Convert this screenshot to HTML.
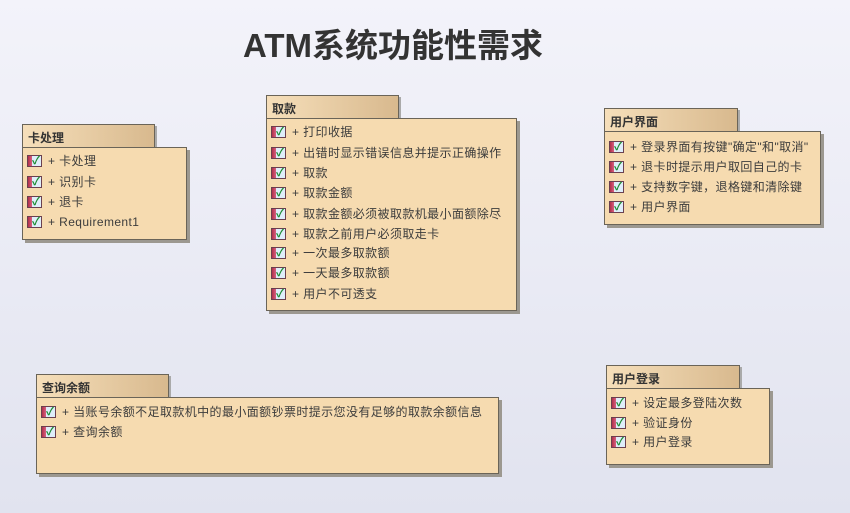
<!DOCTYPE html>
<html><head><meta charset="utf-8"><style>
*{margin:0;padding:0;box-sizing:border-box}
body{width:850px;height:513px;overflow:hidden;background:linear-gradient(#f3f3fa,#e1e3ef);position:relative;font-family:"Liberation Sans","Noto Sans CJK SC",sans-serif;}
.title{position:absolute;left:0;width:786px;text-align:center;top:19px;font-size:33px;font-weight:bold;color:#333;}
.tab{position:absolute;height:24px;border:1px solid #6a6458;background:linear-gradient(90deg,#f6dfba,#d8b98e);font-size:12px;font-weight:bold;color:#333;padding:4px 0 0 5px;box-shadow:2px 2px 0 #aaa;}
.bd{position:absolute;border:1px solid #6a6458;background:#f6dbb0;box-shadow:3px 3px 0 #9c9890;}
.r{position:absolute;left:4px;font-size:12px;color:#3c3c3c;letter-spacing:0.4px;white-space:nowrap;height:16px;line-height:16px}
.i{display:inline-block;width:15px;height:12px;vertical-align:-2px;margin-right:6px;background:linear-gradient(90deg,#b0304a 0,#d86080 4px,#dfeefa 4px);border:1px solid #6a4050;position:relative}
.i:after{content:"✓";position:absolute;left:4px;top:-3px;font-size:11px;color:#1a8a30;font-weight:bold}
</style></head><body>
<div class="title">ATM系统功能性需求</div>

<div class="tab" style="left:22px;top:124px;width:133px">卡处理</div>
<div class="bd" style="left:22px;top:147px;width:165px;height:93px">
<div class="r" style="top:5px"><span class="i"></span>+ 卡处理</div>
<div class="r" style="top:26px"><span class="i"></span>+ 识别卡</div>
<div class="r" style="top:46px"><span class="i"></span>+ 退卡</div>
<div class="r" style="top:66px"><span class="i"></span>+ Requirement1</div>
</div>

<div class="tab" style="left:266px;top:95px;width:133px">取款</div>
<div class="bd" style="left:266px;top:118px;width:251px;height:193px">
<div class="r" style="top:5px"><span class="i"></span>+ 打印收据</div>
<div class="r" style="top:26px"><span class="i"></span>+ 出错时显示错误信息并提示正确操作</div>
<div class="r" style="top:46px"><span class="i"></span>+ 取款</div>
<div class="r" style="top:66px"><span class="i"></span>+ 取款金额</div>
<div class="r" style="top:87px"><span class="i"></span>+ 取款金额必须被取款机最小面额除尽</div>
<div class="r" style="top:107px"><span class="i"></span>+ 取款之前用户必须取走卡</div>
<div class="r" style="top:126px"><span class="i"></span>+ 一次最多取款额</div>
<div class="r" style="top:146px"><span class="i"></span>+ 一天最多取款额</div>
<div class="r" style="top:167px"><span class="i"></span>+ 用户不可透支</div>
</div>

<div class="tab" style="left:604px;top:108px;width:134px">用户界面</div>
<div class="bd" style="left:604px;top:131px;width:217px;height:94px">
<div class="r" style="top:7px"><span class="i"></span>+ 登录界面有按键"确定"和"取消"</div>
<div class="r" style="top:27px"><span class="i"></span>+ 退卡时提示用户取回自己的卡</div>
<div class="r" style="top:47px"><span class="i"></span>+ 支持数字键，退格键和清除键</div>
<div class="r" style="top:67px"><span class="i"></span>+ 用户界面</div>
</div>

<div class="tab" style="left:36px;top:374px;width:133px">查询余额</div>
<div class="bd" style="left:36px;top:397px;width:463px;height:77px">
<div class="r" style="top:6px"><span class="i"></span>+ 当账号余额不足取款机中的最小面额钞票时提示您没有足够的取款余额信息</div>
<div class="r" style="top:26px"><span class="i"></span>+ 查询余额</div>
</div>

<div class="tab" style="left:606px;top:365px;width:134px">用户登录</div>
<div class="bd" style="left:606px;top:388px;width:164px;height:77px">
<div class="r" style="top:6px"><span class="i"></span>+ 设定最多登陆次数</div>
<div class="r" style="top:26px"><span class="i"></span>+ 验证身份</div>
<div class="r" style="top:45px"><span class="i"></span>+ 用户登录</div>
</div>
</body></html>
